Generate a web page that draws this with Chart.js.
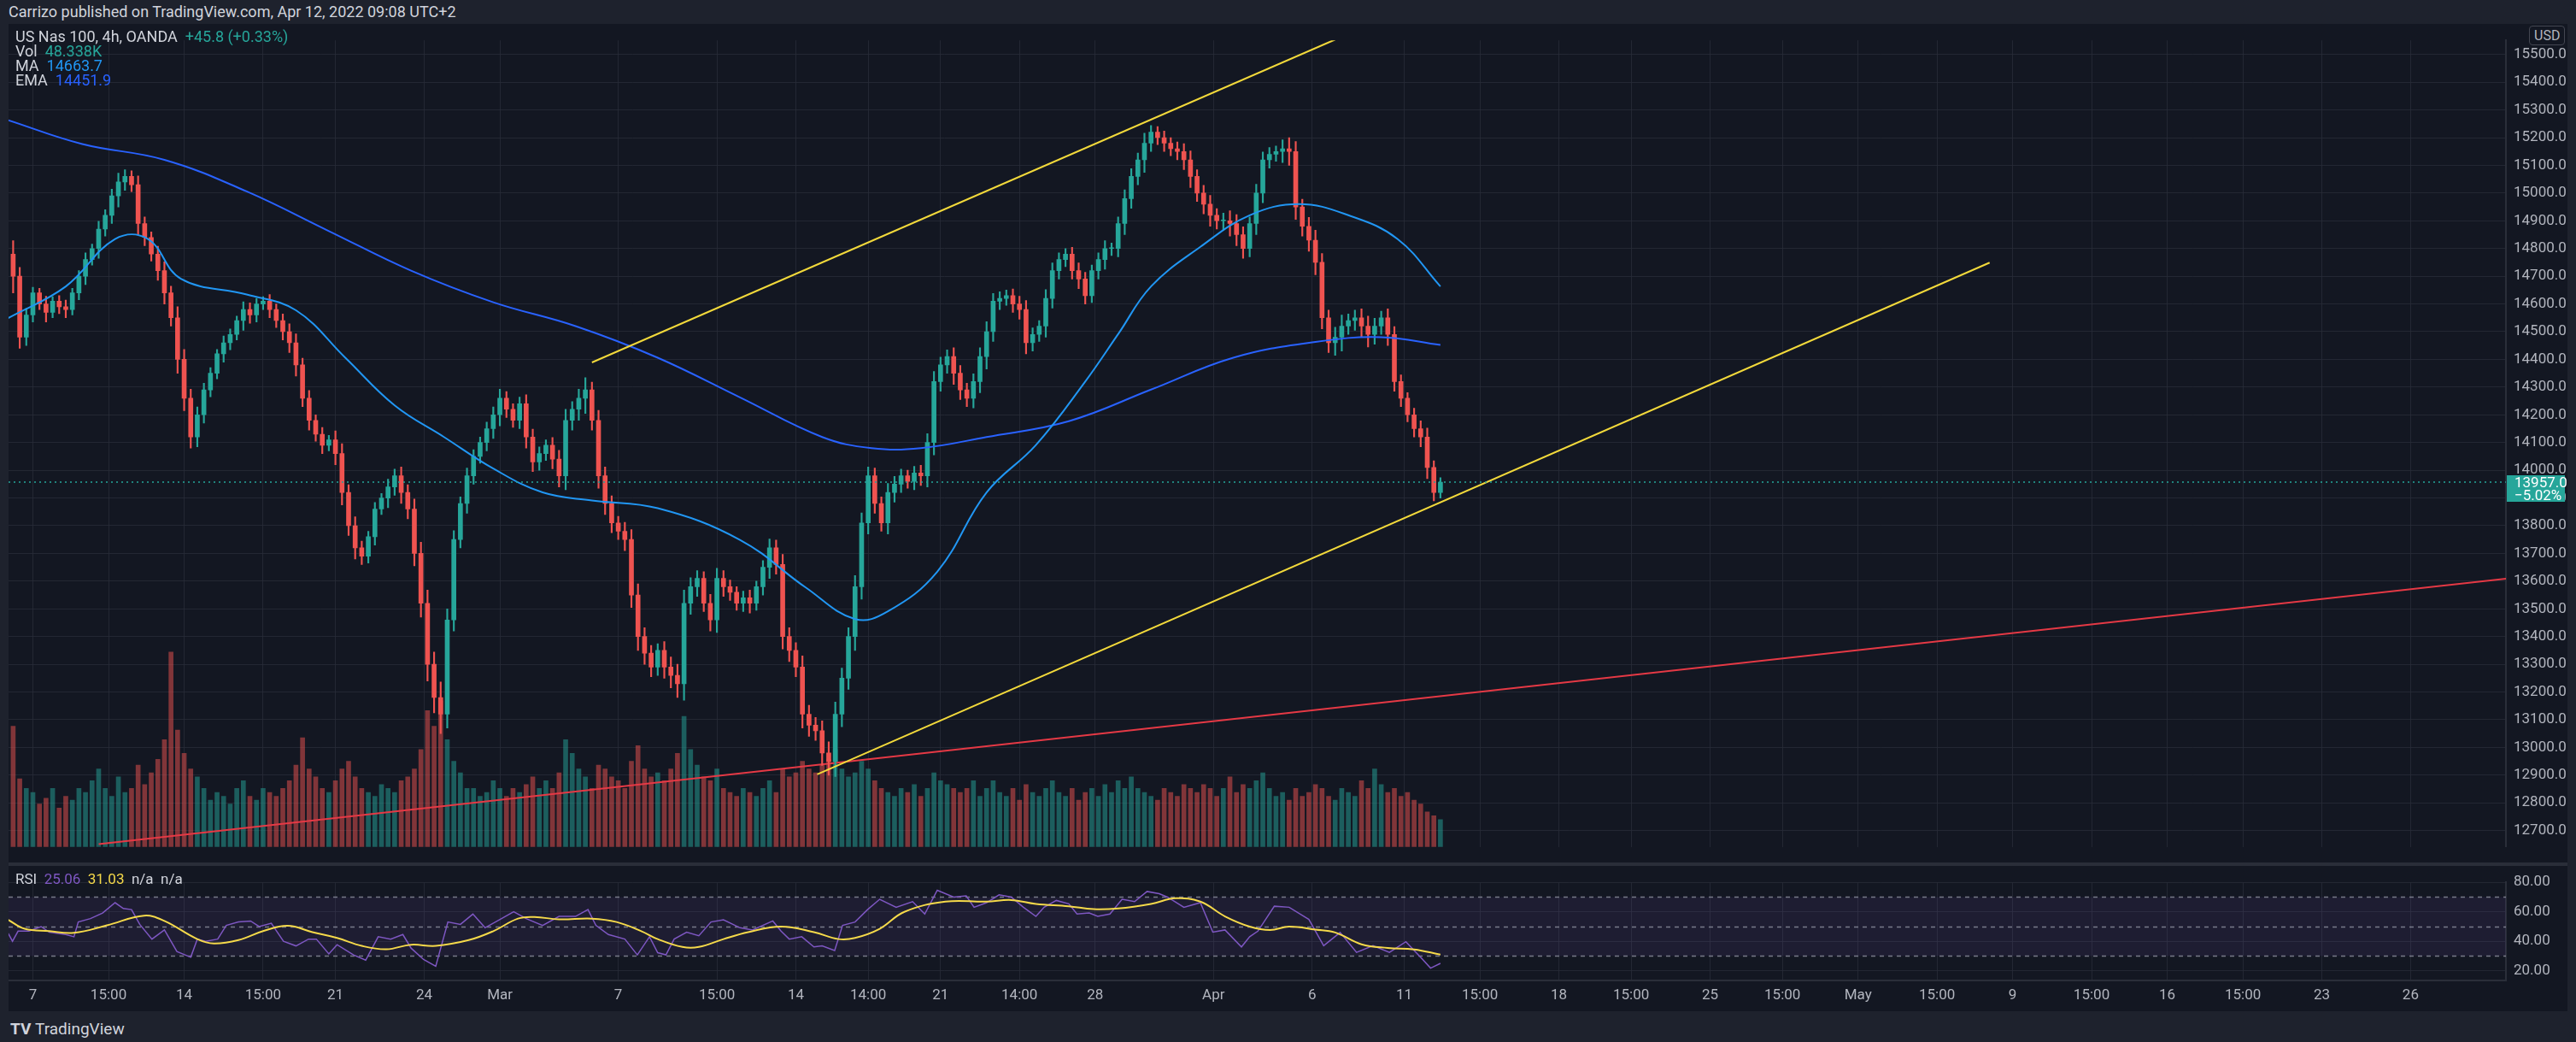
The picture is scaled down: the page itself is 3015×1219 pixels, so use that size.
<!DOCTYPE html>
<html>
<head>
<meta charset="utf-8">
<script src="https://cdn.jsdelivr.net/npm/chart.js@4.4.1/dist/chart.umd.min.js"></script>
<style>
  body { margin: 0; width: 3015px; height: 1219px; background: #1e222d; overflow: hidden; font-family: Roboto, "DejaVu Sans", sans-serif; color: #d1d4dc; position: relative; }
  .abs { position: absolute; }
  #pane { left: 10px; top: 28px; width: 2995px; height: 1155px; background: #131722; }
  #mainBox { left: 10px; top: 28px; width: 2995px; height: 982px; }
  #rsiBox { left: 10px; top: 1013px; width: 2995px; height: 170px; }
  .legend { font-size: 18px; line-height: 17px; white-space: nowrap; }
</style>
</head>
<body>
<div class="abs" id="pane"></div>
<div class="abs" style="left:10px;top:1009px;width:2995px;height:4px;background:#2a2e39"></div>
<div class="abs" id="mainBox"><canvas id="mainChart"></canvas></div>
<div class="abs" id="rsiBox"><canvas id="rsiChart"></canvas></div>
<div class="abs legend" style="left:10px;top:5px;font-size:18px;color:#d1d4dc">Carrizo published on TradingView.com, Apr 12, 2022 09:08 UTC+2</div>
<div class="abs legend" style="left:18px;top:34px">US Nas 100, 4h, OANDA&nbsp; <span style="color:#26a69a">+45.8 (+0.33%)</span></div>
<div class="abs legend" style="left:18px;top:51px">Vol&nbsp; <span style="color:#26a69a">48.338K</span></div>
<div class="abs legend" style="left:18px;top:68px">MA&nbsp; <span style="color:#2196f3">14663.7</span></div>
<div class="abs legend" style="left:18px;top:85px">EMA&nbsp; <span style="color:#2962ff">14451.9</span></div>
<div class="abs legend" style="left:18px;top:1020px;font-size:17px">RSI&nbsp; <span style="color:#7e57c2">25.06</span>&nbsp; <span style="color:#f5d94a">31.03</span>&nbsp; n/a&nbsp; n/a</div>
<div class="abs" style="left:2960px;top:30px;padding:1px 5px;border:1px solid #434651;border-radius:4px;background:#131722;font-size:16px;color:#b2b5be">USD</div>
<div class="abs" style="left:2934px;top:556px;width:68px;height:31px;background:#26a69a;color:#fff;font-size:17px;line-height:15px;padding-left:9px;padding-top:1px;box-sizing:border-box">13957.0<br>−5.02%</div>
<div class="abs" style="left:12px;top:1192px;font-size:19px;color:#d1d4dc;font-weight:bold">TV <span style="font-weight:normal">TradingView</span></div>

<script>
//-------------------------------------------------------------
// Data (x = 4h bar index, 0 = first bar on screen)
//-------------------------------------------------------------
const closes = [
  14700,14480,14560,14640,14600,14570,14610,14590,14580,14640,
  14700,14760,14800,14870,14920,14990,15040,15060,15030,14890,
  14840,14780,14720,14640,14550,14400,14260,14120,14200,14290,
  14350,14420,14460,14490,14540,14580,14560,14600,14610,14580,
  14540,14500,14460,14380,14260,14180,14130,14090,14110,14060,
  13920,13800,13720,13690,13760,13860,13900,13940,13980,13920,
  13860,13700,13520,13300,13180,13120,13460,13750,13880,13980,
  14050,14100,14150,14200,14260,14220,14180,14240,14120,14030,
  14060,14090,14040,13980,14180,14220,14260,14290,14180,13980,
  13880,13810,13780,13750,13550,13400,13340,13290,13350,13290,
  13260,13230,13520,13580,13610,13520,13460,13610,13580,13560,
  13520,13540,13520,13580,13650,13720,13660,13400,13350,13290,
  13120,13080,13060,12980,12950,13120,13250,13400,13580,13810,
  13980,13880,13810,13920,13950,13980,13960,13990,13980,14100,
  14320,14380,14410,14350,14290,14260,14320,14410,14500,14610,
  14620,14630,14600,14580,14460,14490,14520,14620,14720,14760,
  14780,14720,14690,14630,14720,14760,14800,14800,14890,14980,
  15060,15120,15180,15220,15200,15180,15160,15150,15120,15060,
  15000,14960,14920,14900,14900,14890,14850,14800,14890,15000,
  15120,15140,15150,15160,15150,14950,14880,14830,14750,14550,
  14460,14480,14520,14540,14550,14520,14490,14520,14550,14490,
  14320,14260,14200,14150,14120,14010,13920,13957
];
const firstOpen = 14780;
const wicks = [
  60,40,30,25,20,35,20,25,30,20, 25,30,20,35,25,30,40,30,25,40,
  30,25,35,40,30,50,45,40,35,30, 25,20,30,25,20,35,30,25,20,30,
  25,30,35,40,30,35,25,30,20,40, 45,35,40,30,25,30,20,35,30,40,
  35,45,50,60,55,70,50,40,30,35, 30,25,30,35,40,30,25,30,40,35,
  30,25,35,40,50,35,40,55,35,45, 40,35,30,40,45,50,40,35,30,40,
  45,50,60,40,35,30,40,45,35,30, 25,30,35,25,30,40,35,45,40,35,
  50,40,35,45,50,55,45,40,50,45, 40,35,30,40,35,30,25,30,35,40,
  45,35,30,40,35,30,35,40,45,35, 30,25,30,35,40,30,25,40,35,30,
  25,30,35,30,25,30,35,25,30,40, 35,30,45,30,25,30,25,30,35,40,
  30,35,40,30,35,45,40,35,30,40, 35,30,25,40,50,45,35,40,45,40,
  35,45,50,30,35,40,45,35,30,40, 35,30,25,30,35,40,30,20
];
const volumes = [
  62,35,30,28,22,25,30,20,26,24, 30,28,34,40,30,26,36,28,30,42,
  32,38,45,55,100,60,48,40,36,30, 24,28,26,22,30,34,26,24,30,28,
  26,30,34,42,56,40,36,30,28,34, 40,44,36,30,28,26,32,30,28,34,
  36,40,50,70,62,75,55,44,38,30, 30,26,28,34,30,26,30,28,32,36,
  30,34,30,38,55,48,40,36,30,42, 40,36,34,30,44,52,40,36,38,34,
  40,48,67,50,42,36,34,40,30,28, 26,30,28,26,30,34,28,40,36,38,
  44,40,38,42,45,50,40,36,38,44, 40,34,30,28,26,30,28,32,26,30,
  38,34,32,30,28,30,34,26,30,34, 28,26,30,24,32,28,26,30,34,28,
  26,30,24,28,30,26,32,28,34,30, 36,30,28,26,24,30,28,26,32,30,
  28,32,30,26,30,36,28,32,30,34, 38,30,26,28,24,30,26,28,32,30,
  26,24,30,28,26,34,30,40,32,28, 30,26,28,24,22,18,16,14
];

const maPts = [
  [-0.75,14549],[8,14663],[15.5,14834],[20.5,14834],[25.5,14691],[35.5,14634],[43,14577],
  [50.5,14406],[58,14234],[65.5,14120],[73,14006],[80.5,13920],[88,13891],[98,13863],
  [110.5,13749],[120.5,13577],[128,13463],[133,13491],[140.5,13634],[148,13920],
  [155.5,14091],[163,14320],[168,14491],[173,14663],[180.5,14806],[188,14920],
  [195.5,14960],[203,14920],[210.5,14834],[217,14663]
];
const emaPts = [
  [-0.75,15263],[10.5,15177],[23,15120],[35.5,15006],[48,14863],[60.5,14720],[73,14606],
  [85.5,14520],[98,14406],[110.5,14263],[123,14120],[130.5,14080],[138,14080],[148,14120],
  [160.5,14177],[173,14291],[185.5,14406],[198,14463],[208,14480],[217,14452]
];
const upperChannel = [[88,14389],[201,15554]];
const lowerChannel = [[122.25,12903],[300.5,14749]];
const redTrend = [[13,12651],[380,13611]];
const lastPrice = 13957;
const priceTicks = [12700,12800,12900,13000,13100,13200,13300,13400,13500,13600,13700,13800,13900,14000,
  14100,14200,14300,14400,14500,14600,14700,14800,14900,15000,15100,15200,15300,15400,15500];

const rsiPts = [
  [-0.75,45.4],[-0.1,40],[0.75,46.9],[2.4,46.9],[4.25,50],[5.5,46.2],[8,44.6],[9.25,43.1],
  [9.9,53.1],[11.75,55.4],[13.6,59.2],[15.5,66.2],[16.75,62.3],[18,61.5],[19.25,51.5],
  [21.1,41.5],[23,47.7],[24.9,33.1],[27,29.2],[28,41.5],[29.25,40],[31.1,41.5],[32.4,50.8],
  [34.25,53.1],[36.1,53.8],[37.4,50],[39.25,52.3],[41.1,40],[43,36.9],[44.9,41.5],[46.1,41.5],
  [48,31.5],[49.25,37.7],[51.75,30.8],[53.6,27.2],[55.5,43.1],[57.4,41.5],[59.25,44.6],
  [60.5,35.4],[62.4,27.7],[64.25,23.1],[66.1,53.1],[68,51.5],[69.9,58.5],[71.75,49.2],
  [74.25,55.4],[76.1,60],[78,55.4],[80.5,50.8],[83,56.9],[85.5,56.9],[87.4,61.5],[88.6,50.8],
  [90.5,44.6],[93,41.5],[94.9,30.8],[96.75,43.1],[98,32.3],[99.25,30.8],[100.5,41.5],
  [102.4,46.2],[104.25,43.8],[106.1,53.1],[108,54.6],[110.5,49.2],[112.4,47.7],[115.5,53.8],
  [116.75,46.9],[118,41.5],[119.9,43.1],[121.75,36.2],[123,36.9],[124.9,33.8],[126.1,50.8],
  [128,53.1],[129.9,61.5],[131.75,68.5],[134.25,63.1],[136.75,66.9],[138.6,58.5],[140.5,74.6],
  [143,70],[144.9,70.8],[146.1,63.1],[148,66.2],[149.9,71.5],[151.75,70],[153.6,63.1],
  [155.5,56.9],[156.75,63.1],[158.6,67.7],[160.5,65.4],[161.75,58.5],[163.6,59.2],[164.9,56.9],
  [166.75,58.5],[168.6,68.5],[170.5,66.9],[172.4,73.8],[174.25,72.3],[175.5,70],[178,63.1],
  [180.5,66.2],[182.4,46.2],[184.25,47.7],[186.75,36.2],[188,43.1],[189.25,46.9],[191.75,63.8],
  [194,63.1],[197,54.9],[199.25,37],[201.75,46],[204.25,32.5],[206.75,37],[209.25,32.5],
  [211.75,39.7],[214.25,28],[215.5,21.8],[217,25.06]
];
const rsiMaPts = [
  [-0.75,54.6],[1.75,48.5],[5.5,46.9],[9.25,45.8],[14.25,50.8],[19.9,57.4],[23,53.8],[28,41.5],
  [30.5,38.5],[34.25,40.8],[38,46.9],[41.75,50.5],[45.5,46.2],[49.25,42.3],[53,36.9],
  [56.75,34.6],[60.5,37.7],[64.25,36.9],[69.25,40.8],[73,46.9],[76.75,55.4],[79.25,56.5],
  [83,54.9],[88,55.4],[91.75,53.1],[95.5,46.9],[98,41.5],[101.75,36.2],[104.25,36.2],[108,41.5],
  [111.75,46.2],[116.75,50],[121.75,46.2],[125.5,41.5],[128,42.3],[131.75,48.5],[135.5,60],
  [141.75,66.9],[148,66.9],[151.75,68],[155.5,65.4],[160.5,63.8],[164.25,61.8],[168,62.3],
  [173,65.4],[176.75,69.2],[180.5,66.9],[184.25,56.9],[188,50],[191.1,47.7],[194,50],
  [198,48],[201,46],[205,38],[209,35.5],[213,34.5],[217,31.03]
];
const rsiTicks = [20, 40, 60, 80];

const timeTickIdx = [3,14.5,26,38,49,62.5,74,92,107,119,130,141,153,164.5,182.5,197.5,211.5,223,235,246,258,269,280.5,292.5,304,316,327.5,339,351,364.5];
const timeTickLabels = ["7","15:00","14","15:00","21","24","Mar","7","15:00","14","14:00","21","14:00","28","Apr","6","11","15:00","18","15:00","25","15:00","May","15:00","9","15:00","16","15:00","23","26"];

//-------------------------------------------------------------
// Build series
//-------------------------------------------------------------
const UP = "#26a69a", DOWN = "#ef5350";
const bodies = [], wickBars = [], volBars = [], candleColors = [], volColors = [];
closes.forEach((c, i) => {
  const o = i === 0 ? firstOpen : closes[i - 1];
  const up = c >= o;
  const top = Math.max(o, c), bot = Math.min(o, c);
  bodies.push({ x: i, y: [bot, top === bot ? top + 3 : top] });
  wickBars.push({ x: i, y: [bot - wicks[i], top + wicks[i] * 0.8] });
  volBars.push({ x: i, y: volumes[i] });
  candleColors.push(up ? UP : DOWN);
  volColors.push(up ? "rgba(38,166,154,0.5)" : "rgba(239,83,80,0.5)");
});
const toXY = (pts) => pts.map(([x, y]) => ({ x, y }));

const GRID = "rgba(42,46,57,0.75)";
const TICK = "#b2b5be";
const X_MIN = -0.7, X_MAX = 379;
const AXIS_FONT = { size: 17, family: "Roboto" };

function fixedWidth(scale) { scale.width = 72; }
function timeTicks(scale) { scale.ticks = timeTickIdx.map((v) => ({ value: v })); }

//-------------------------------------------------------------
// Main price pane
//-------------------------------------------------------------
new Chart(document.getElementById("mainChart"), {
  data: {
    datasets: [
      { type: "bar", data: volBars, yAxisID: "yV", backgroundColor: volColors, barThickness: 5, grouped: false, order: 10 },
      { type: "line", data: toXY(redTrend), borderColor: "#e53945", borderWidth: 2, pointRadius: 0, order: 9 },
      { type: "bar", data: wickBars, backgroundColor: candleColors, barThickness: 1.5, grouped: false, order: 8 },
      { type: "bar", data: bodies, backgroundColor: candleColors, barThickness: 5, grouped: false, order: 7 },
      { type: "line", data: toXY(emaPts), borderColor: "#2962ff", borderWidth: 2, pointRadius: 0, tension: 0.4, order: 6 },
      { type: "line", data: toXY(maPts), borderColor: "#2196f3", borderWidth: 2, pointRadius: 0, tension: 0.4, order: 5 },
      { type: "line", data: toXY(upperChannel), borderColor: "#f2d93b", borderWidth: 2, pointRadius: 0, order: 4 },
      { type: "line", data: toXY(lowerChannel), borderColor: "#f2d93b", borderWidth: 2, pointRadius: 0, order: 4 },
      { type: "line", data: [{ x: X_MIN, y: lastPrice }, { x: X_MAX, y: lastPrice }], borderColor: "#26a69a", borderWidth: 1.5, borderDash: [2, 4], pointRadius: 0, order: 3 },
    ],
  },
  options: {
    responsive: true, maintainAspectRatio: false, animation: false,
    layout: { padding: 0 },
    plugins: { legend: { display: false }, tooltip: { enabled: false } },
    scales: {
      x: {
        type: "linear", offset: false, min: X_MIN, max: X_MAX, afterBuildTicks: timeTicks,
        ticks: { display: false }, grid: { color: GRID, drawTicks: false, offset: false }, border: { display: false },
      },
      y: {
        position: "right", min: 12641, max: 15551, afterFit: fixedWidth,
        afterBuildTicks: (s) => { s.ticks = priceTicks.map((v) => ({ value: v })); },
        ticks: { color: TICK, font: AXIS_FONT, padding: 9, callback: (v) => v.toFixed(1) },
        grid: { color: GRID, drawTicks: false },
        border: { color: "#2a2e39", width: 2 },
      },
      yV: { display: false, min: 0, max: 414 },
    },
  },
});

//-------------------------------------------------------------
// RSI pane
//-------------------------------------------------------------
const rsiBand = {
  id: "rsiBand",
  beforeDatasetsDraw(chart) {
    const { ctx, chartArea: a, scales: { y } } = chart;
    ctx.save();
    ctx.fillStyle = "rgba(126,87,194,0.1)";
    ctx.fillRect(a.left, y.getPixelForValue(70), a.width, y.getPixelForValue(30) - y.getPixelForValue(70));
    ctx.strokeStyle = "rgba(160,163,175,0.7)";
    ctx.setLineDash([5, 5]);
    ctx.lineWidth = 1.5;
    [70, 50, 30].forEach((lv) => {
      const py = Math.round(y.getPixelForValue(lv)) + 0.5;
      ctx.beginPath(); ctx.moveTo(a.left, py); ctx.lineTo(a.right, py); ctx.stroke();
    });
    ctx.restore();
  },
};

new Chart(document.getElementById("rsiChart"), {
  type: "line",
  data: {
    datasets: [
      { data: toXY(rsiMaPts), borderColor: "#f5d94a", borderWidth: 2, pointRadius: 0, tension: 0.4 },
      { data: toXY(rsiPts), borderColor: "#7e57c2", borderWidth: 1.5, pointRadius: 0 },
    ],
  },
  options: {
    responsive: true, maintainAspectRatio: false, animation: false,
    layout: { padding: 0 },
    plugins: { legend: { display: false }, tooltip: { enabled: false } },
    scales: {
      x: {
        type: "linear", min: X_MIN, max: X_MAX, afterBuildTicks: timeTicks,
        ticks: { color: TICK, font: AXIS_FONT, padding: 8, maxRotation: 0, autoSkip: false,
          callback: (v) => timeTickLabels[timeTickIdx.indexOf(v)] },
        grid: { color: GRID, drawTicks: false }, border: { color: "#2a2e39", width: 2 },
      },
      y: {
        position: "right", min: 13.7, max: 80, afterFit: fixedWidth,
        afterBuildTicks: (s) => { s.ticks = rsiTicks.map((v) => ({ value: v })); },
        ticks: { color: TICK, font: AXIS_FONT, padding: 9, callback: (v) => v.toFixed(2) },
        grid: { color: GRID, drawTicks: false }, border: { color: "#2a2e39", width: 2 },
      },
    },
  },
  plugins: [rsiBand],
});
</script>
</body>
</html>
